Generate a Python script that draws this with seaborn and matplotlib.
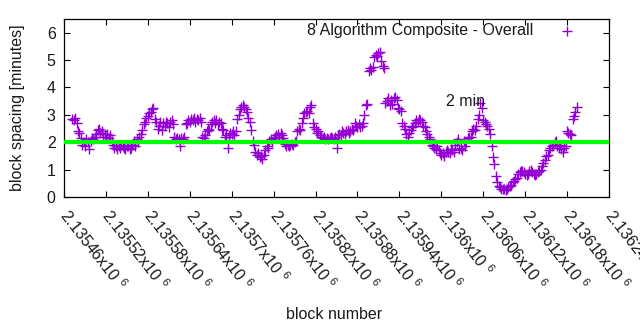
import numpy as np
import pandas as pd
import matplotlib
matplotlib.use("Agg")
import matplotlib.pyplot as plt
import seaborn as sns

# ---- data ----
first_block = 2135472
block_step = 2
spacing_minutes = [
    2.85, 2.8, 2.9, 2.7, 2.4, 2.35, 2.15, 1.9, 2.0, 1.85,
    2.1, 2.0, 1.75, 2.05, 2.15, 2.1, 2.2, 2.3, 2.45, 2.5,
    2.35, 2.4, 2.2, 2.3, 2.2, 2.3, 2.15, 2.25, 2.05, 1.9,
    1.8, 1.85, 1.75, 1.85, 1.8, 1.9, 1.85, 1.8, 1.75, 1.85,
    1.85, 1.75, 1.8, 1.9, 2.05, 1.85, 2.1, 2.0, 2.2, 2.3,
    2.45, 2.65, 2.75, 2.9, 2.95, 3.05, 3.1, 3.2, 3.25, 2.85,
    2.75, 2.5, 2.6, 2.75, 2.45, 2.7, 2.6, 2.75, 2.7, 2.55,
    2.75, 2.8, 2.65, 2.2, 2.1, 2.15, 2.1, 1.85, 2.15, 2.1,
    2.2, 2.65, 2.7, 2.8, 2.75, 2.85, 2.8, 2.9, 2.75, 2.85,
    2.8, 2.9, 2.75, 2.2, 2.15, 2.25, 2.4, 2.5, 2.45, 2.65,
    2.75, 2.8, 2.7, 2.8, 2.65, 2.75, 2.7, 2.5, 2.45, 2.2,
    2.25, 1.8, 2.2, 2.35, 2.3, 2.4, 2.25, 2.4, 2.85, 3.0,
    3.2, 3.3, 3.35, 3.3, 3.2, 3.1, 2.9, 2.75, 2.45, 2.05,
    1.9, 1.65, 1.55, 1.6, 1.45, 1.5, 1.4, 1.55, 1.7, 1.85,
    1.8, 2.05, 2.1, 2.0, 2.15, 2.2, 2.25, 2.3, 2.2, 2.35,
    2.25, 2.15, 1.95, 1.85, 1.9, 1.85, 1.9, 1.95, 1.9, 2.0,
    2.05, 2.4, 2.5, 2.45, 2.7, 2.9, 3.05, 3.1, 3.15, 3.05,
    3.3, 3.35, 2.7, 2.55, 2.5, 2.35, 2.4, 2.25, 2.2, 2.15,
    2.2, 2.1, 2.15, 2.1, 2.15, 2.2, 2.15, 2.1, 2.2, 1.8,
    2.25, 2.3, 2.25, 2.4, 2.35, 2.3, 2.4, 2.45, 2.35, 2.4,
    2.5, 2.45, 2.7, 2.6, 2.55, 2.65, 2.55, 2.6, 2.7, 3.0,
    3.35, 3.4, 4.6, 4.7, 4.65, 4.75, 5.1, 5.2, 5.15, 5.25,
    5.3, 4.95, 4.8, 4.7, 3.45, 3.5, 3.6, 3.35, 3.55, 3.4,
    3.6, 3.65, 3.55, 3.25, 3.2, 3.15, 2.7, 2.6, 2.5, 2.3,
    2.2, 2.35, 2.45, 2.55, 2.6, 2.7, 2.8, 2.75, 2.85, 2.8,
    2.75, 2.6, 2.55, 2.4, 2.3, 2.2, 2.1, 1.9, 1.85, 1.8,
    1.75, 1.85, 1.7, 1.6, 1.55, 1.6, 1.5, 1.65, 1.7, 1.65,
    1.6, 1.75, 1.7, 1.65, 1.9, 2.0, 2.1, 1.75, 1.8, 1.7,
    2.05, 1.85, 2.0, 2.15, 2.2, 2.2, 2.4, 2.5, 2.45, 2.6,
    2.85, 3.0, 3.45, 3.25, 2.8, 2.75, 2.65, 2.6, 2.5, 2.3,
    1.85, 1.45, 1.2, 0.75, 0.55, 0.4, 0.35, 0.3, 0.28, 0.3,
    0.25, 0.3, 0.35, 0.4, 0.45, 0.55, 0.6, 0.65, 0.7, 0.85,
    0.9, 0.95, 0.95, 0.9, 0.85, 0.8, 0.85, 0.95, 1.0, 0.9,
    0.85, 0.8, 0.85, 0.9, 0.95, 1.0, 1.15, 1.25, 1.35, 1.5,
    1.55, 1.7, 1.8, 1.85, 1.9, 2.0, 2.05, 1.85, 1.8, 1.9,
    1.75, 1.65, 1.8, 1.85, 2.4, 2.35, 2.3, 2.25, 2.85, 2.95,
    3.1, 3.3,
]
series_name = "8 Algorithm Composite - Overall"
target_minutes = 2
target_label = "2 min"
target_label_pos = (2136007, 3.5)

x_ticks = [2135460, 2135520, 2135580, 2135640, 2135700, 2135760, 2135820,
           2135880, 2135940, 2136000, 2136060, 2136120, 2136180, 2136240]
x_tick_mantissas = ["2.13546", "2.13552", "2.13558", "2.13564", "2.1357",
                    "2.13576", "2.13582", "2.13588", "2.13594", "2.136",
                    "2.13606", "2.13612", "2.13618", "2.13624"]
y_ticks = [0, 1, 2, 3, 4, 5, 6]

blocks = first_block + block_step * np.arange(len(spacing_minutes))
df = pd.DataFrame({"block": blocks, "spacing": spacing_minutes})

# ---- style ----
sns.set_style("ticks")
plt.rcParams["font.family"] = ["Liberation Sans", "DejaVu Sans"]
plt.rcParams["mathtext.fontset"] = "custom"
plt.rcParams["mathtext.rm"] = "Liberation Sans"
plt.rcParams["mathtext.it"] = "Liberation Sans:italic"
plt.rcParams["mathtext.bf"] = "Liberation Sans:bold"
FS = 11.5

purple = "#9400d3"
green = "#00ff00"

fig = plt.figure(figsize=(6.4, 3.3), dpi=100)
ax = fig.add_axes([64 / 640, 1 - 197 / 330, 545 / 640, 178 / 330])

sns.scatterplot(data=df, x="block", y="spacing", ax=ax, marker="+",
                color=purple, s=45, linewidth=1.0, label=series_name,
                zorder=2)
ax.axhline(target_minutes, color=green, lw=3.0, zorder=3)
ax.text(target_label_pos[0], target_label_pos[1], target_label,
        ha="left", va="center", fontsize=FS, color="#1a1a1a", zorder=4)

ax.set_xlim(x_ticks[0], x_ticks[-1])
ax.set_ylim(0, 6.5)
ax.set_xticks(x_ticks)
ax.set_xticklabels([m + r"x10 $^{6}$" for m in x_tick_mantissas],
                   rotation=-52, ha="left", va="center",
                   rotation_mode="anchor", fontsize=FS)
ax.set_yticks(y_ticks)
ax.set_yticklabels([str(v) for v in y_ticks], fontsize=FS)
ax.tick_params(axis="both", direction="in", length=4, width=0.8,
               top=True, right=True, color="black", labelcolor="#1a1a1a")
ax.tick_params(axis="x", pad=10.5)
ax.tick_params(axis="y", pad=6)
for sp in ax.spines.values():
    sp.set_visible(True)
    sp.set_color("black")
    sp.set_linewidth(0.9)

ax.set_xlabel("block number", fontsize=FS, color="#1a1a1a")
ax.set_ylabel("block spacing [minutes]", fontsize=FS, color="#1a1a1a")
ax.xaxis.set_label_coords(0.495, -0.62)
ax.yaxis.set_label_coords(-0.072, 0.5)

leg = ax.legend(loc="upper right", bbox_to_anchor=(583 / 640, 1 - 22.7 / 330),
                bbox_transform=fig.transFigure, frameon=False,
                markerfirst=False, scatterpoints=1, borderpad=0,
                borderaxespad=0, handlelength=2.0, handletextpad=1.125,
                fontsize=FS)
for t in leg.get_texts():
    t.set_color("#1a1a1a")

fig.savefig("out.png", dpi=100)
